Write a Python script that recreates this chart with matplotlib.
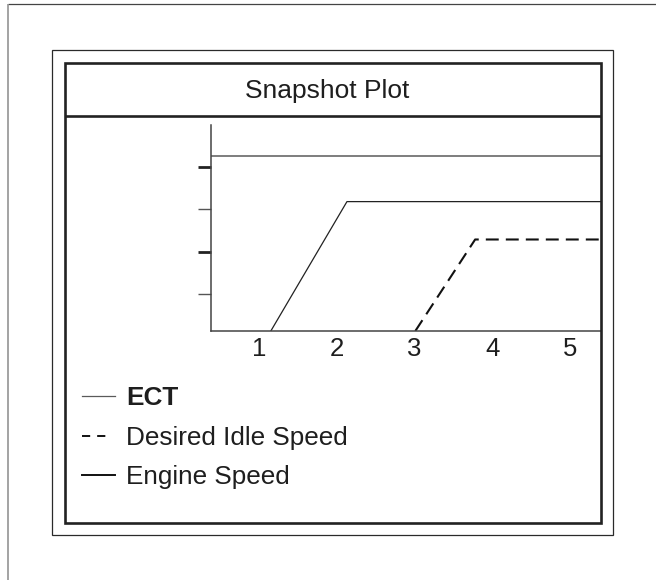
import matplotlib
matplotlib.use("Agg")
import matplotlib.pyplot as plt
from matplotlib.lines import Line2D
from matplotlib.patches import Rectangle

plt.rcParams['font.family'] = ['Liberation Sans', 'DejaVu Sans']

# Series data (x in seconds-like units, y in arbitrary units)
ect_x = [0.38, 5.40]
ect_y = [4.26, 4.26]
engine_x = [1.15, 2.13, 5.40]
engine_y = [0.14, 3.18, 3.18]
idle_x = [3.01, 3.78, 5.40]
idle_y = [0.14, 2.29, 2.29]

x_ticks = [1, 2, 3, 4, 5]
x_tick_labels = ["1", "2", "3", "4", "5"]
y_major = [2, 4]
y_minor = [1, 3]

series_labels = ["ECT", "Desired Idle Speed", "Engine Speed"]
title_text = "Snapshot Plot"

W, H = 656, 580
fig = plt.figure(figsize=(W / 100, H / 100), dpi=100)
fig.patch.set_facecolor("white")


def fx(x):
    return x / W


def fy(y):
    return 1 - y / H


def hline(x0, x1, y, color, lw):
    fig.add_artist(Line2D([fx(x0), fx(x1)], [fy(y), fy(y)], color=color, lw=lw,
                          transform=fig.transFigure, solid_capstyle="butt"))


def vline(x, y0, y1, color, lw):
    fig.add_artist(Line2D([fx(x), fx(x)], [fy(y0), fy(y1)], color=color, lw=lw,
                          transform=fig.transFigure, solid_capstyle="butt"))


# page edges
hline(8, W, 4, "#444444", 0.9)
vline(8, 4, H, "#8a8a8a", 1.1)

# outer thin frame
fig.add_artist(Rectangle((fx(52), fy(535)), fx(613) - fx(52), fy(50) - fy(535),
                         fill=False, ec="#2a2a2a", lw=0.9, transform=fig.transFigure))
# inner heavy frame
fig.add_artist(Rectangle((fx(65), fy(523)), fx(601) - fx(65), fy(63) - fy(523),
                         fill=False, ec="#222222", lw=1.9, transform=fig.transFigure))
hline(65, 601, 116, "#222222", 1.9)

fig.text(fx(327.5), fy(98), title_text, ha="center", va="baseline",
         fontsize=19, color="#1e1e1e")

# plot area
ax = fig.add_axes([fx(211), fy(331), fx(601) - fx(211), fy(125) - fy(331)])
ax.set_xlim(0.38, 5.40)
ax.set_ylim(0.14, 4.98)
ax.patch.set_alpha(0)
for s in ("top", "right"):
    ax.spines[s].set_visible(False)
for s in ("left", "bottom"):
    ax.spines[s].set_color("#444444")
    ax.spines[s].set_linewidth(1.1)

l_ect, = ax.plot(ect_x, ect_y, color="#5a5a5a", lw=1.1, solid_capstyle="butt")
l_idle, = ax.plot(idle_x, idle_y, color="#111111", lw=1.5, dashes=(6.2, 3.4))
l_eng, = ax.plot(engine_x, engine_y, color="#222222", lw=0.9)

ax.set_xticks(x_ticks)
ax.set_xticklabels(x_tick_labels)
ax.tick_params(axis="x", length=0, pad=4, labelsize=18.5, labelcolor="#1e1e1e")
ax.set_yticks(y_major)
ax.set_yticks(y_minor, minor=True)
ax.set_yticklabels([])
ax.tick_params(axis="y", which="major", length=9.5, width=2.0, color="#222222")
ax.tick_params(axis="y", which="minor", length=9.5, width=1.0, color="#555555")

# legend keys: short "- -" for the dashed series, heavier stroke for engine speed
key_ect = Line2D([], [], color="#5a5a5a", lw=0.9)
key_idle = Line2D([], [], color="#111111", lw=1.4, dashes=(4.2, 3.6, 4.2, 6.0))
key_eng = Line2D([], [], color="#111111", lw=1.4)

leg = ax.legend([key_ect, key_idle, key_eng], series_labels,
                loc="upper left", bbox_to_anchor=(fx(82), fy(386)),
                bbox_transform=fig.transFigure, frameon=False, fontsize=18.8,
                handlelength=1.28, handletextpad=0.42, labelspacing=0.6,
                borderaxespad=0, borderpad=0)
for t in leg.get_texts():
    t.set_color("#1e1e1e")
leg.get_texts()[0].set_fontweight("bold")

fig.savefig("out.png", dpi=100)
